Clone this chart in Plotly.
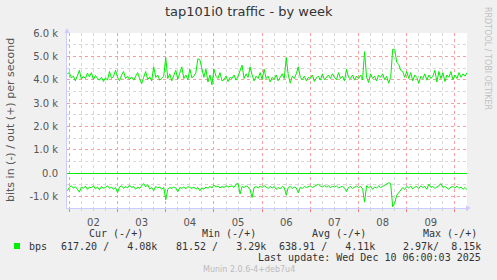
import plotly.graph_objects as go
import pandas as pd

# ---------------- data (hourly samples) ----------------
start_time = "2025-12-01 23:00"
out_kbps = [
    4.25, 4.30, 4.08, 4.15, 3.95, 4.20, 4.40, 4.02, 4.15, 4.05,
    4.28, 4.12, 4.30, 4.00, 4.18, 4.05, 3.98, 4.10, 3.92, 4.08,
    3.98, 4.35, 4.05, 4.15, 4.40, 4.10, 3.95, 4.20, 4.35, 4.05,
    4.15, 4.00, 4.12, 3.98, 4.18, 4.30, 4.05, 3.82, 4.10, 4.35,
    4.00, 4.12, 3.95, 4.55, 4.10, 4.20, 3.98, 4.08, 4.15, 4.95,
    4.05, 4.25, 3.95, 4.18, 4.40, 4.02, 4.25, 4.55, 4.05, 4.20,
    4.00, 4.45, 4.08, 4.15, 4.30, 4.90, 4.85, 4.50, 4.10, 4.45,
    3.90, 4.20, 3.78, 4.45, 4.15, 4.05, 4.30, 3.95, 4.00, 4.15,
    3.92, 4.10, 4.05, 4.20, 3.98, 4.15, 4.35, 4.62, 4.05, 4.25,
    4.10, 4.55, 4.20, 3.95, 4.15, 4.05, 4.30, 4.00, 4.45, 4.05,
    4.15, 3.90, 4.10, 4.00, 4.20, 3.95, 4.10, 4.25, 4.05, 4.95,
    4.20, 3.85, 4.15, 4.05, 4.25, 4.55, 4.10, 4.00, 4.15, 3.95,
    4.10, 4.05, 4.20, 3.92, 4.08, 4.15, 3.98, 4.25, 4.00, 4.12,
    4.20, 4.05, 4.25, 4.10, 4.00, 4.30, 4.05, 4.15, 3.95, 4.45,
    4.10, 4.05, 4.20, 3.98, 4.15, 4.05, 4.20, 4.00, 5.20, 4.10,
    3.88, 4.25, 4.05, 4.15, 3.95, 4.20, 4.10, 4.25, 4.00, 4.15,
    3.85, 4.10, 5.30, 5.30, 4.75, 4.65, 4.40, 4.35, 4.10, 4.35,
    4.05, 4.30, 3.95, 4.20, 4.10, 3.85, 4.15, 4.05, 4.25, 3.98,
    4.20, 4.05, 4.15, 4.40, 3.90, 4.35, 4.05, 4.30, 3.92, 4.20,
    4.10, 4.35, 4.00, 4.20, 4.05, 4.30, 4.10, 4.25, 4.15, 4.30,
]
in_kbps = [
    0.76, 0.62, 0.55, 0.65, 0.58, 0.68, 0.82, 0.60, 0.66, 0.56,
    0.70, 0.60, 0.64, 0.55, 0.68, 0.60, 0.72, 0.58, 0.65, 0.62,
    0.55, 0.66, 0.60, 0.70, 0.62, 0.84, 0.60, 0.55, 0.66, 0.58,
    0.64, 0.52, 0.62, 0.58, 0.70, 0.60, 0.66, 0.55, 0.45, 0.60,
    0.50, 0.68, 0.62, 0.76, 0.58, 0.64, 0.60, 0.70, 0.62, 1.15,
    0.70, 0.62, 0.66, 0.60, 0.64, 0.80, 0.62, 0.66, 0.60, 0.68,
    0.58, 0.62, 0.66, 0.60, 0.70, 0.62, 0.76, 0.64, 0.70, 0.60,
    0.66, 0.58, 0.64, 0.52, 0.60, 0.56, 0.64, 0.58, 0.62, 0.55,
    0.60, 0.58, 0.55, 0.62, 0.48, 0.45, 0.90, 0.58, 0.62, 0.55,
    0.60, 0.72, 1.05, 0.62, 0.58, 0.64, 0.56, 0.62, 0.54, 0.60,
    0.66, 0.58, 0.64, 0.58, 0.70, 0.62, 0.68, 0.58, 0.62, 0.95,
    0.62, 0.58, 0.66, 0.60, 0.64, 0.85, 0.62, 0.66, 0.58, 0.62,
    0.60, 0.56, 0.62, 0.58, 0.52, 0.48, 0.56, 0.60, 0.54, 0.60,
    0.55, 0.62, 0.58, 0.60, 0.55, 0.64, 0.60, 0.58, 0.64, 0.80,
    0.62, 0.58, 0.66, 0.60, 0.56, 0.62, 0.58, 0.66, 1.25, 0.55,
    0.62, 0.58, 0.70, 0.60, 0.64, 0.56, 0.62, 0.58, 0.52, 0.48,
    0.42, 0.45, 1.45, 1.30, 0.95, 0.85, 0.72, 0.62, 0.70, 0.58,
    0.64, 0.56, 0.68, 0.60, 0.58, 0.66, 0.55, 0.62, 0.58, 0.70,
    0.48, 0.62, 0.58, 0.66, 0.60, 0.55, 0.45, 0.62, 0.58, 0.66,
    0.70, 0.60, 0.58, 0.64, 0.56, 0.66, 0.60, 0.70, 0.62, 0.72,
]
y_tick_vals = [-1000, 0, 1000, 2000, 3000, 4000, 5000, 6000]
y_tick_text = ["-1.0 k", "0.0", "1.0 k", "2.0 k", "3.0 k", "4.0 k", "5.0 k", "6.0 k"]
x_range = ["2025-12-01 22:50", "2025-12-10 06:00"]

legend_headers = ["Cur (-/+)", "Min (-/+)", "Avg (-/+)", "Max (-/+)"]
legend_values = ["617.20 /   4.08k", "81.52 /   3.29k", "638.91 /   4.11k", "2.97k/  8.15k"]
series_name = "bps"
title_text = "tap101i0 traffic - by week"
y_title = "bits in (-) / out (+) per second"
last_update = "Last update: Wed Dec 10 06:00:03 2025"
version_text = "Munin 2.0.6-4+deb7u4"
side_text = "RRDTOOL / TOBI OETIKER"

# ---------------- figure ----------------
W, H = 497, 280
L, R, T, B = 67, 30, 33, 72
PW, PH = W - L - R, H - T - B
GREEN = "#00EE00"
SANS = "DejaVu Sans"
MONO = "DejaVu Sans Mono"


def px(x):
    return (x - L) / PW


def py(y):
    return (H - B - y) / PH


times = pd.date_range(start_time, periods=len(out_kbps), freq="h")

fig = go.Figure()
fig.add_trace(go.Scatter(x=times, y=[v * 1000 for v in out_kbps], mode="lines",
                         line=dict(color=GREEN, width=1), showlegend=False, hoverinfo="skip"))
fig.add_trace(go.Scatter(x=times, y=[-v * 1000 for v in in_kbps], mode="lines",
                         line=dict(color=GREEN, width=1), showlegend=False, hoverinfo="skip"))

fig.update_layout(
    width=W, height=H,
    margin=dict(l=L, r=R, t=T, b=B, pad=0),
    paper_bgcolor="#F0F0F0", plot_bgcolor="#FFFFFF",
    font=dict(family=SANS, size=10, color="#555555"),
    hovermode=False,
)
fig.update_xaxes(
    type="date", range=x_range,
    dtick=86400000, tick0="2025-12-02", tickformat="%d", ticklabelmode="period",
    showgrid=True, gridcolor="#F4A0A0", griddash="dot", gridwidth=1,
    minor=dict(dtick=6 * 3600000, showgrid=True, gridcolor="#D8D8D8", griddash="dot",
               ticks="outside", ticklen=2, tickcolor="#D0D0D0"),
    ticks="outside", ticklen=3, tickcolor="#F08080",
    showline=True, linecolor="#CCCCFF", linewidth=1,
    zeroline=False, tickfont=dict(size=10, color="#555555"),
    ticklabelstandoff=2,
)
fig.update_yaxes(
    range=[-1500, 6000], tickmode="array", tickvals=y_tick_vals, ticktext=y_tick_text,
    showgrid=True, gridcolor="#F4A0A0", griddash="dot", gridwidth=1,
    minor=dict(tickmode="linear", tick0=0, dtick=500, showgrid=True,
               gridcolor="#D8D8D8", griddash="dot"),
    showline=True, linecolor="#CCCCFF", linewidth=1,
    zeroline=True, zerolinecolor=GREEN, zerolinewidth=1,
    tickfont=dict(size=10, color="#555555"), ticklabelstandoff=6,
)

ann = []
ann.append(dict(text=title_text, x=px(W / 2), y=py(12), xref="paper", yref="paper",
                xanchor="center", yanchor="middle", showarrow=False,
                font=dict(family=SANS, size=13, color="#333333")))
ann.append(dict(text=y_title, x=px(10), y=py(120), xref="paper", yref="paper",
                textangle=-90, showarrow=False, xanchor="center", yanchor="middle",
                font=dict(family=SANS, size=11, color="#555555")))
ann.append(dict(text=side_text, x=px(488), y=py(58), xref="paper", yref="paper",
                textangle=90, showarrow=False, xanchor="center", yanchor="middle",
                font=dict(family=SANS, size=8, color="#C0C0C0")))
header_cx = [116, 229, 339, 450]
value_rx = [159, 268, 377, 483]
for h, cx in zip(legend_headers, header_cx):
    ann.append(dict(text=h, x=px(cx), y=py(233), xref="paper", yref="paper",
                    showarrow=False, xanchor="center", yanchor="middle",
                    font=dict(family=MONO, size=10, color="#333333")))
for v, rx in zip(legend_values, value_rx):
    ann.append(dict(text=v.replace(" ", "&nbsp;"), x=px(rx), y=py(246), xref="paper", yref="paper",
                    showarrow=False, xanchor="right", yanchor="middle",
                    font=dict(family=MONO, size=10, color="#333333")))
ann.append(dict(text=series_name, x=px(27), y=py(246), xref="paper", yref="paper",
                showarrow=False, xanchor="left", yanchor="middle",
                font=dict(family=MONO, size=10, color="#333333")))
ann.append(dict(text=last_update, x=px(483), y=py(257), xref="paper", yref="paper",
                showarrow=False, xanchor="right", yanchor="middle",
                font=dict(family=MONO, size=10, color="#333333")))
ann.append(dict(text=version_text, x=px(W / 2), y=py(269), xref="paper", yref="paper",
                showarrow=False, xanchor="center", yanchor="middle",
                font=dict(family=SANS, size=8, color="#BBBBBB")))
# axis arrow heads
ann.append(dict(x=px(471), y=0, xref="paper", yref="paper", ax=-6, ay=0,
                showarrow=True, arrowhead=2, arrowsize=1, arrowwidth=1,
                arrowcolor="#CCCCFF", text=""))
ann.append(dict(x=0, y=py(28), xref="paper", yref="paper", ax=0, ay=6,
                showarrow=True, arrowhead=2, arrowsize=1, arrowwidth=1,
                arrowcolor="#CCCCFF", text=""))
fig.update_layout(annotations=ann)

fig.add_shape(type="rect", xref="paper", yref="paper",
              x0=px(14), x1=px(20), y0=py(249), y1=py(243),
              fillcolor=GREEN, line=dict(width=0))

fig.write_html("out.html", config={"displayModeBar": False})
